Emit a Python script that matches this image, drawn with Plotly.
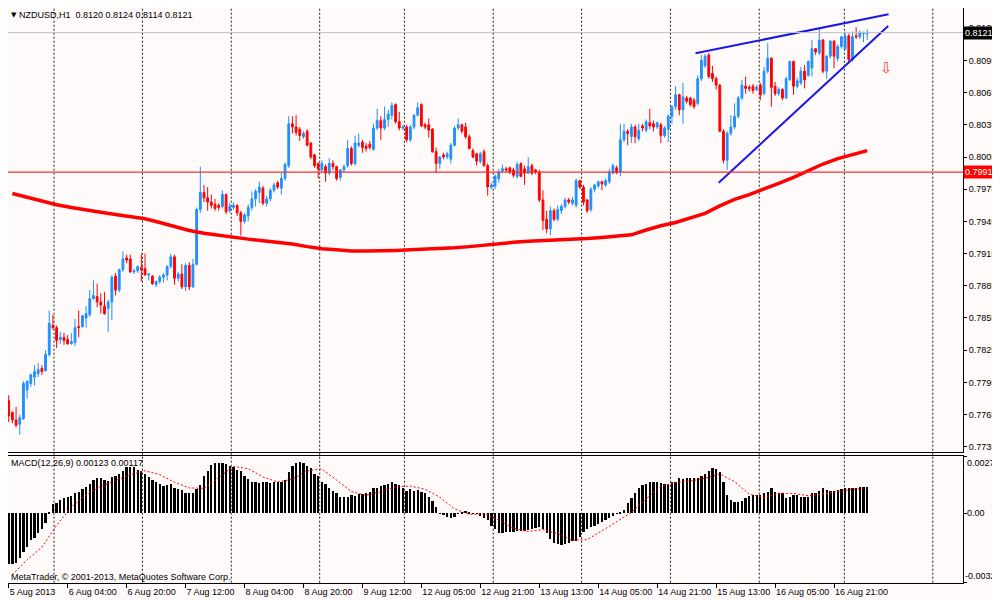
import numpy as np
import plotly.graph_objects as go

# NZDUSD H1 bars, prices in pips (x 0.0001)
open_pips = [
    7778, 7767, 7760, 7756, 7761, 7788, 7794, 7800, 7803, 7808,
    7806, 7821, 7848, 7846, 7835, 7837, 7835, 7831, 7832, 7847,
    7847, 7855, 7858, 7873, 7875, 7870, 7866, 7864, 7870, 7894,
    7881, 7900, 7911, 7910, 7898, 7899, 7902, 7901, 7895, 7894,
    7886, 7889, 7893, 7895, 7903, 7912, 7892, 7896, 7884, 7904,
    7884, 7905, 7956, 7972, 7967, 7963, 7961, 7960, 7959, 7970,
    7955, 7958, 7960, 7953, 7945, 7950, 7958, 7966, 7972, 7976,
    7962, 7966, 7974, 7981, 7976, 7985, 7997, 8036, 8033, 8031,
    8024, 8029, 8018, 8007, 7999, 7993, 7996, 7990, 7999, 7996,
    7986, 7993, 7997, 8013, 7999, 8016, 8019, 8015, 8017, 8012,
    8032, 8039, 8032, 8040, 8044, 8054, 8038, 8032, 8033, 8021,
    8033, 8044, 8054, 8035, 8035, 8031, 8010, 7999, 8007, 8005,
    8003, 8016, 8032, 8035, 8033, 8024, 8011, 8008, 8001, 8010,
    7997, 7977, 7978, 7985, 7992, 7994, 7995, 7993, 7987, 7999,
    7994, 7990, 7997, 7993, 7991, 7965, 7947, 7938, 7955, 7947,
    7955, 7959, 7965, 7962, 7960, 7983, 7977, 7965, 7956, 7975,
    7978, 7982, 7979, 7982, 7990, 7995, 7991, 8021, 8029, 8024,
    8033, 8022, 8034, 8030, 8037, 8036, 8033, 8035, 8025, 8031,
    8043, 8052, 8063, 8049, 8060, 8060, 8058, 8055, 8078, 8090,
    8100, 8083, 8078, 8072, 8029, 8002, 8027, 8033, 8043, 8060,
    8071, 8070, 8071, 8068, 8072, 8064, 8085, 8097, 8071, 8064,
    8068, 8060, 8077, 8094, 8071, 8074, 8085, 8081, 8088, 8106,
    8102, 8114, 8085, 8099, 8113, 8097, 8108, 8106, 8118, 8096,
    8118, 8117, 8120, 8120,
]
high_pips = [
    7783, 7768, 7772, 7765, 7796, 7797, 7803, 7811, 7813, 7811,
    7825, 7862, 7858, 7848, 7842, 7841, 7839, 7841, 7854, 7862,
    7858, 7866, 7881, 7890, 7887, 7878, 7879, 7872, 7895, 7897,
    7901, 7917, 7914, 7914, 7901, 7904, 7915, 7915, 7897, 7895,
    7890, 7895, 7897, 7904, 7915, 7914, 7898, 7905, 7906, 7907,
    7910, 7958, 7996, 7979, 7977, 7970, 7966, 7962, 7974, 7971,
    7962, 7963, 7961, 7955, 7953, 7961, 7973, 7975, 7982, 7978,
    7969, 7976, 7981, 7983, 7991, 8000, 8043, 8043, 8044, 8033,
    8029, 8031, 8019, 8008, 8000, 8002, 7998, 8004, 8002, 7997,
    7994, 7998, 8021, 8015, 8025, 8027, 8021, 8018, 8020, 8036,
    8050, 8043, 8052, 8049, 8056, 8055, 8047, 8035, 8035, 8035,
    8045, 8056, 8055, 8037, 8041, 8032, 8014, 8006, 8009, 8010,
    8018, 8034, 8041, 8036, 8037, 8026, 8013, 8009, 8010, 8012,
    7999, 7981, 7989, 7994, 7998, 7996, 7996, 7995, 8001, 8000,
    7997, 8005, 7999, 7994, 7993, 7974, 7955, 7959, 7957, 7960,
    7961, 7967, 7967, 7968, 7985, 7984, 7979, 7966, 7977, 7980,
    7983, 7983, 7985, 7994, 7999, 7997, 8036, 8036, 8031, 8036,
    8035, 8036, 8036, 8040, 8050, 8039, 8038, 8037, 8034, 8045,
    8053, 8071, 8064, 8074, 8062, 8061, 8060, 8081, 8100, 8101,
    8102, 8090, 8080, 8073, 8031, 8029, 8044, 8055, 8062, 8077,
    8080, 8072, 8073, 8072, 8074, 8089, 8111, 8098, 8075, 8070,
    8069, 8080, 8095, 8095, 8079, 8089, 8091, 8095, 8114, 8106,
    8125, 8115, 8100, 8114, 8114, 8110, 8118, 8122, 8120, 8122,
    8126, 8123, 8122, 8124,
]
low_pips = [
    7758, 7757, 7753, 7746, 7760, 7780, 7791, 7792, 7800, 7802,
    7805, 7819, 7844, 7827, 7831, 7830, 7830, 7830, 7829, 7837,
    7846, 7846, 7856, 7872, 7865, 7859, 7858, 7842, 7853, 7876,
    7879, 7898, 7906, 7897, 7896, 7897, 7889, 7895, 7890, 7886,
    7884, 7887, 7888, 7890, 7901, 7886, 7889, 7882, 7880, 7881,
    7883, 7904, 7953, 7963, 7955, 7957, 7955, 7955, 7957, 7952,
    7953, 7956, 7950, 7932, 7943, 7945, 7955, 7959, 7962, 7960,
    7959, 7964, 7972, 7975, 7970, 7983, 7995, 8027, 8025, 8020,
    8022, 8015, 8003, 7995, 7985, 7991, 7982, 7988, 7993, 7983,
    7983, 7991, 7995, 7997, 7997, 8014, 8009, 8010, 8012, 8011,
    8030, 8021, 8030, 8033, 8040, 8036, 8030, 8030, 8019, 8019,
    8031, 8043, 8033, 8031, 8023, 8009, 7990, 7994, 8003, 8003,
    7999, 8015, 8030, 8027, 8022, 8012, 8004, 7997, 7999, 7996,
    7969, 7975, 7975, 7981, 7990, 7991, 7989, 7986, 7985, 7986,
    7979, 7989, 7988, 7989, 7963, 7937, 7934, 7932, 7945, 7945,
    7952, 7957, 7961, 7960, 7958, 7975, 7960, 7953, 7954, 7972,
    7976, 7974, 7977, 7980, 7989, 7989, 7987, 8019, 8016, 8018,
    8018, 8020, 8029, 8028, 8031, 8029, 8031, 8018, 8023, 8019,
    8036, 8049, 8044, 8036, 8055, 8052, 8050, 8053, 8076, 8088,
    8078, 8075, 8068, 8028, 7999, 7993, 8025, 8031, 8041, 8058,
    8064, 8066, 8064, 8066, 8058, 8063, 8083, 8052, 8062, 8062,
    8058, 8059, 8076, 8063, 8069, 8072, 8069, 8080, 8080, 8100,
    8100, 8083, 8078, 8097, 8088, 8094, 8106, 8104, 8092, 8094,
    8115, 8115, 8112, 8114,
]
close_pips = [
    7764, 7760, 7755, 7762, 7794, 7796, 7802, 7805, 7807, 7805,
    7821, 7850, 7846, 7834, 7837, 7834, 7831, 7833, 7846, 7846,
    7857, 7859, 7873, 7876, 7870, 7867, 7859, 7870, 7893, 7881,
    7900, 7910, 7909, 7898, 7899, 7903, 7900, 7895, 7896, 7887,
    7889, 7893, 7895, 7903, 7912, 7892, 7896, 7884, 7904, 7884,
    7905, 7956, 7972, 7967, 7963, 7960, 7957, 7958, 7970, 7954,
    7959, 7960, 7953, 7945, 7951, 7958, 7966, 7973, 7977, 7962,
    7966, 7974, 7979, 7977, 7985, 7998, 8036, 8033, 8028, 8025,
    8027, 8016, 8005, 7997, 7994, 7999, 7990, 7999, 7996, 7985,
    7993, 7996, 8013, 7999, 8018, 8018, 8014, 8013, 8014, 8032,
    8039, 8032, 8040, 8045, 8053, 8038, 8032, 8033, 8021, 8033,
    8044, 8051, 8034, 8033, 8030, 8010, 7999, 8005, 8005, 8008,
    8016, 8032, 8035, 8029, 8024, 8013, 8005, 8001, 8008, 7997,
    7977, 7979, 7987, 7991, 7994, 7993, 7991, 7988, 7998, 7987,
    7990, 7996, 7990, 7991, 7965, 7946, 7938, 7955, 7947, 7956,
    7959, 7965, 7963, 7965, 7983, 7977, 7963, 7955, 7975, 7979,
    7982, 7980, 7983, 7991, 7997, 7991, 8021, 8029, 8027, 8033,
    8024, 8030, 8032, 8038, 8034, 8033, 8037, 8025, 8032, 8043,
    8052, 8063, 8049, 8061, 8057, 8054, 8052, 8078, 8095, 8099,
    8080, 8078, 8072, 8029, 8002, 8027, 8033, 8043, 8060, 8072,
    8069, 8069, 8067, 8070, 8063, 8085, 8097, 8070, 8064, 8068,
    8060, 8078, 8094, 8071, 8076, 8085, 8077, 8094, 8106, 8103,
    8114, 8085, 8099, 8113, 8099, 8108, 8117, 8118, 8096, 8117,
    8117, 8121, 8121, 8121,
]

# MACD(12,26,9) main line in units of 0.00001
macd_main = [
    -239, -239, -236, -212, -181, -157, -126, -118, -94, -74,
    -44, 3, 44, 50, 63, 71, 75, 82, 97, 102,
    113, 126, 141, 157, 165, 165, 157, 154, 170, 177,
    188, 201, 217, 220, 217, 207, 201, 185, 173, 157,
    146, 141, 130, 133, 137, 122, 115, 110, 97, 97,
    97, 113, 133, 176, 201, 228, 239, 240, 239, 232,
    223, 220, 207, 201, 176, 160, 149, 146, 144, 149,
    146, 144, 146, 146, 146, 157, 196, 223, 239, 243,
    240, 223, 212, 188, 177, 149, 141, 118, 107, 94,
    75, 75, 79, 86, 83, 91, 91, 94, 102, 118,
    122, 129, 133, 141, 146, 141, 133, 122, 107, 113,
    107, 110, 102, 94, 79, 58, 28, -3, -8, -16,
    -24, -16, -3, 8, 13, 8, -2, -3, -11, -24,
    -31, -60, -74, -94, -94, -86, -86, -86, -82, -82,
    -82, -79, -74, -68, -63, -75, -94, -122, -141, -146,
    -149, -144, -138, -133, -129, -113, -86, -75, -66, -60,
    -50, -39, -31, -24, -13, -3, 8, 16, 47, 71,
    94, 118, 133, 141, 146, 148, 149, 144, 141, 141,
    146, 149, 165, 160, 165, 165, 165, 165, 176, 185,
    201, 212, 209, 196, 149, 86, 63, 52, 52, 60,
    71, 82, 86, 89, 89, 94, 102, 118, 102, 94,
    94, 71, 79, 89, 86, 79, 79, 79, 94, 97,
    107, 121, 110, 107, 107, 110, 113, 118, 118, 118,
    122, 126, 126, 123,
]
# signal line, read every 4th bar (bars 1, 5, 9, ... 233)
signal_bars = list(range(1, 234, 4))
macd_signal = [
    -290, -220, -160, -57, 30, 87, 128, 157, 183, 201,
    183, 147, 120, 118, 169, 222, 211, 172, 148, 161,
    201, 210, 157, 103, 85, 102, 125, 129, 114, 76,
    21, -5, -3, -32, -71, -86, -77, -96, -127, -124,
    -83, -40, 4, 69, 127, 145, 153, 166, 186, 150,
    90, 75, 95, 94, 83, 92, 104, 114, 117,
]
# moving average (red thick line), read every 4th bar
ma_bars = list(range(1, 234, 4))
ma_pips = [
    7971, 7967.5, 7963.5, 7960.5, 7958, 7955.5, 7953.5, 7951.5, 7949.5, 7947.5,
    7944, 7940.5, 7936.5, 7934, 7932, 7930, 7928.5, 7927, 7925.5, 7924,
    7921.5, 7919.5, 7918.5, 7917.5, 7917.5, 7917.5, 7918, 7918.5, 7919, 7920,
    7920.5, 7921.5, 7923, 7924.5, 7925.5, 7926.5, 7927, 7927.5, 7928.5, 7929,
    7930, 7931, 7932.5, 7937, 7941, 7944, 7948, 7952.5, 7959.5, 7965.5,
    7970, 7975, 7980.5, 7986, 7992, 7998.5, 8003.5, 8007.5, 8011,
]

# user drawn objects (bar index, price)
upper_line_bars = [186.4, 238.8]
upper_line_price = [0.81017, 0.81380]
lower_line_bars = [192.7, 238.7]
lower_line_price = [0.79811, 0.81271]
sell_arrow_bar = 238.2
sell_arrow_price = 0.8088
level_price = 0.7991
bid_price = 0.8121

tick_bars = list(range(0, 225, 16))
tick_text = ["5 Aug 2013", "6 Aug 04:00", "6 Aug 20:00", "7 Aug 12:00", "8 Aug 04:00",
             "8 Aug 20:00", "9 Aug 12:00", "12 Aug 05:00", "12 Aug 21:00", "13 Aug 13:00",
             "14 Aug 05:00", "14 Aug 21:00", "15 Aug 13:00", "16 Aug 05:00", "16 Aug 21:00"]
day_breaks = [12.3, 36.3, 60.4, 84.4, 107.4, 131.5, 155.5, 179.6, 203.7, 226.8, 250.8]
price_ticks = [0.8125, 0.8095, 0.8065, 0.8035, 0.8005, 0.7975, 0.7945,
               0.7915, 0.7885, 0.7855, 0.7825, 0.7795, 0.7765, 0.7735]

bars = np.arange(len(close_pips))
o = np.array(open_pips) / 1e4
h = np.array(high_pips) / 1e4
l = np.array(low_pips) / 1e4
c = np.array(close_pips) / 1e4

FONT = "Liberation Sans, Arial, sans-serif"
BG = "#FFFAFA"
# page body has an 8px margin, so the figure is 8px smaller than the window
W, H = 992, 592
X_DOM = [0.0, 0.9627]
X_RNG = [-0.19, 259.0]
MAIN_DOM = [0.25, 1.0]
MACD_DOM = [0.02922, 0.24324]

fig = go.Figure()

fig.add_trace(go.Candlestick(
    x=bars, open=o, high=h, low=l, close=c,
    increasing=dict(line=dict(color="#1E90FF", width=1), fillcolor="#1E90FF"),
    decreasing=dict(line=dict(color="#FF0000", width=1), fillcolor="#FF0000"),
    whiskerwidth=0, showlegend=False, hoverinfo="skip"))

fig.add_trace(go.Scatter(x=ma_bars, y=np.array(ma_pips) / 1e4, mode="lines",
                         line=dict(color="#FF0000", width=3.5), showlegend=False))
fig.add_trace(go.Scatter(x=upper_line_bars, y=upper_line_price, mode="lines",
                         line=dict(color="#1818E8", width=2), showlegend=False))
fig.add_trace(go.Scatter(x=lower_line_bars, y=lower_line_price, mode="lines",
                         line=dict(color="#1818E8", width=2), showlegend=False))

# MACD pane
fig.add_trace(go.Bar(x=bars, y=np.array(macd_main) / 1e5, width=0.62,
                     marker=dict(color="black", line=dict(width=0)),
                     xaxis="x2", yaxis="y2", showlegend=False))
fig.add_trace(go.Scatter(x=signal_bars, y=np.array(macd_signal) / 1e5, mode="lines",
                         line=dict(color="#FF0000", width=1, dash="2px,2px"),
                         xaxis="x2", yaxis="y2", showlegend=False))

# vertical dashed day separators
for d in day_breaks:
    fig.add_shape(type="line", xref="x", yref="paper", x0=d, x1=d,
                  y0=MACD_DOM[0], y1=MAIN_DOM[1], layer="below",
                  line=dict(color="#202020", width=1, dash="2px,2px"))

# bid line and horizontal level
fig.add_shape(type="line", xref="paper", yref="y", x0=X_DOM[0], x1=X_DOM[1],
              y0=bid_price, y1=bid_price, line=dict(color="#C0C0C0", width=1))
fig.add_shape(type="line", xref="paper", yref="y", x0=X_DOM[0], x1=X_DOM[1],
              y0=level_price, y1=level_price, line=dict(color="#F03030", width=1.2))

small = dict(family=FONT, size=9, color="black")
annotations = [
    dict(x=0.001, y=0.9882, xref="paper", yref="paper", text="▼", showarrow=False,
         xanchor="left", yanchor="middle", font=dict(family="DejaVu Sans", size=7, color="black")),
    dict(x=0.0091, y=0.9882, xref="paper", yref="paper",
         text="NZDUSD,H1  0.8120 0.8124 0.8114 0.8121", showarrow=False,
         xanchor="left", yanchor="middle", font=small),
    dict(x=0.001, y=0.2314, xref="paper", yref="paper",
         text="MACD(12,26,9) 0.00123 0.00117", showarrow=False,
         xanchor="left", yanchor="middle", font=small),
    dict(x=0.001, y=0.0389, xref="paper", yref="paper",
         text="MetaTrader, © 2001-2013, MetaQuotes Software Corp.", showarrow=False,
         xanchor="left", yanchor="middle", font=small),
    dict(x=0.9652, y=0.00271, xref="paper", yref="y2", text="0.00271", showarrow=False,
         xanchor="left", yanchor="top", font=small),
    dict(x=0.9652, y=0, xref="paper", yref="y2", text="0.00", showarrow=False,
         xanchor="left", yanchor="middle", font=small),
    dict(x=0.9630, y=-0.00328, xref="paper", yref="y2", text="-0.00328", showarrow=False,
         xanchor="left", yanchor="bottom", font=small),
    dict(x=0.9627, y=bid_price, xref="paper", yref="y", text="0.8121", showarrow=False,
         xanchor="left", yanchor="middle", bgcolor="black", borderpad=1,
         font=dict(family=FONT, size=9, color="white")),
    dict(x=0.9627, y=level_price, xref="paper", yref="y", text="0.7991", showarrow=False,
         xanchor="left", yanchor="middle", bgcolor="#FF0000", borderpad=1,
         font=dict(family=FONT, size=9, color="white")),
    dict(x=sell_arrow_bar, y=sell_arrow_price, xref="x", yref="y", text="⇩", showarrow=False,
         xanchor="center", yanchor="middle",
         font=dict(family="DejaVu Sans", size=15, color="#FF4040")),
]

axis_common = dict(showgrid=False, zeroline=False, showline=True, mirror=True,
                   linecolor="black", linewidth=1)

fig.update_layout(
    width=W, height=H,
    margin=dict(l=0, r=0, t=0, b=0),
    paper_bgcolor=BG, plot_bgcolor=BG,
    showlegend=False, bargap=0,
    font=dict(family=FONT, size=9, color="black"),
    xaxis=dict(domain=X_DOM, range=X_RNG, anchor="y", showticklabels=False, ticks="",
               rangeslider=dict(visible=False), **axis_common),
    yaxis=dict(domain=MAIN_DOM, range=[0.77301, 0.81439], side="right", anchor="x",
               tickvals=price_ticks, ticktext=[f"{p:.4f}" for p in price_ticks],
               ticks="outside", ticklen=3, tickcolor="black",
               tickfont=small, **axis_common),
    xaxis2=dict(domain=X_DOM, range=X_RNG, anchor="y2", tickvals=tick_bars, ticktext=tick_text,
                ticks="outside", ticklen=4, tickcolor="black", tickangle=0,
                ticklabelposition="outside right", tickfont=small, **axis_common),
    yaxis2=dict(domain=MACD_DOM, range=[-0.00328, 0.00271], side="right", anchor="x2",
                tickvals=[0.00271, 0, -0.00328], ticktext=["", "", ""],
                ticks="outside", ticklen=3, tickcolor="black", **axis_common),
    annotations=annotations,
)

fig.write_html("out.html")
